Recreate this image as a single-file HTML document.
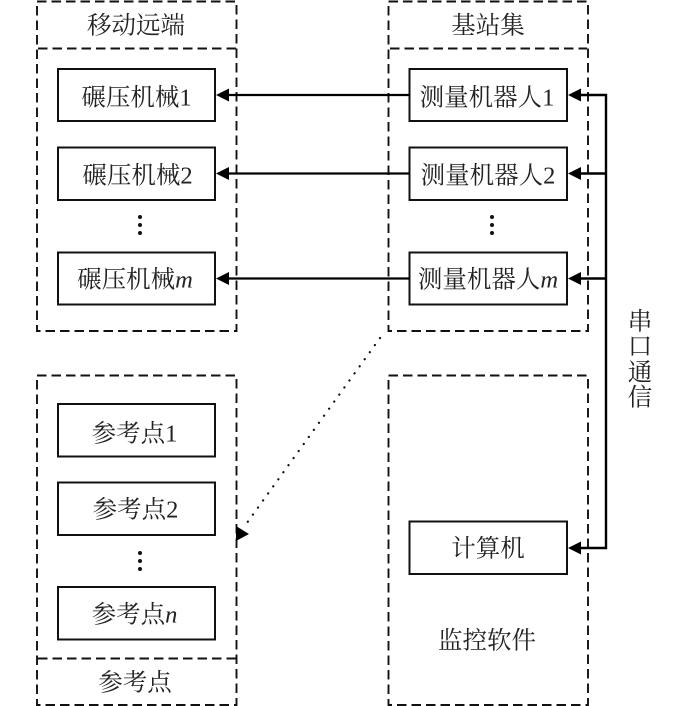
<!DOCTYPE html>
<html lang="zh">
<head>
<meta charset="utf-8">
<style>
html,body{margin:0;padding:0;background:#fff;width:700px;height:706px;overflow:hidden}
svg{display:block}
text{font-family:"Liberation Serif","Noto Serif CJK SC",serif;font-size:24.5px;fill:#222;text-anchor:middle}
.i{font-style:italic}
.d{fill:none;stroke:#111;stroke-width:1.9;stroke-dasharray:9.500 5}
.b{fill:#fff;stroke:#111;stroke-width:2}
.l{stroke:#000;stroke-width:2.200;fill:none}
</style>
</head>
<body>
<svg width="700" height="706" viewBox="0 0 700 706" xmlns="http://www.w3.org/2000/svg">
<!-- dashed containers -->
<rect class="d" x="37" y="1.5" width="199.5" height="329.5"/>
<line class="d" x1="38" y1="48.500" x2="236" y2="48.500"/>
<rect class="d" x="388.500" y="1.500" width="199.500" height="329.500"/>
<line class="d" x1="390" y1="48.500" x2="587" y2="48.500"/>
<rect class="d" x="37" y="375.500" width="199.500" height="329.500"/>
<line class="d" x1="38" y1="658.500" x2="236" y2="658.500"/>
<rect class="d" x="388.500" y="375.500" width="199.500" height="329.500"/>

<!-- solid boxes -->
<rect class="b" x="58" y="69" width="157" height="52"/>
<rect class="b" x="58" y="147.500" width="157" height="52.500"/>
<rect class="b" x="58" y="252.500" width="157" height="52"/>
<rect class="b" x="409.500" y="69" width="157.500" height="52"/>
<rect class="b" x="409.500" y="147.500" width="157.500" height="52.500"/>
<rect class="b" x="409.500" y="252.500" width="157.500" height="52"/>
<rect class="b" x="58" y="404" width="157" height="52.500"/>
<rect class="b" x="58" y="482.500" width="157" height="52.500"/>
<rect class="b" x="58" y="587" width="157" height="52.500"/>
<rect class="b" x="409.500" y="521.500" width="157.500" height="52.500"/>

<!-- connectors -->
<line class="l" x1="228" y1="95" x2="410" y2="95"/>
<line class="l" x1="228" y1="173.500" x2="410" y2="173.500"/>
<line class="l" x1="228" y1="278.500" x2="410" y2="278.500"/>
<polygon points="216,95 229,88.500 229,101.500" fill="#000"/>
<polygon points="216,173.500 229,167 229,180" fill="#000"/>
<polygon points="216,278.500 229,272 229,285" fill="#000"/>
<path class="l" d="M580 95 H606 V548 H580 M580 173.500 H606 M580 278.500 H606" style="stroke-width:2.400"/>
<polygon points="568,95 581,88.500 581,101.500" fill="#000"/>
<polygon points="568,173.500 581,167 581,180" fill="#000"/>
<polygon points="568,278.500 581,272 581,285" fill="#000"/>
<polygon points="568,548 581,541.500 581,554.500" fill="#000"/>

<!-- dotted arrow -->
<line x1="380" y1="338" x2="244" y2="527" stroke="#111" stroke-width="2.200" stroke-linecap="round" stroke-dasharray="0.100 8.600"/>
<polygon points="249,534 236,541 236,526" fill="#000"/>

<!-- ellipsis dots -->
<g fill="#111">
<circle cx="140" cy="217" r="2"/><circle cx="140" cy="225" r="2"/><circle cx="140" cy="233" r="2"/>
<circle cx="492" cy="217" r="2"/><circle cx="492" cy="225" r="2"/><circle cx="492" cy="233" r="2"/>
<circle cx="140" cy="553" r="2"/><circle cx="140" cy="561" r="2"/><circle cx="140" cy="569" r="2"/>
</g>

<!-- labels -->
<text x="136" y="33.500">移动远端</text>
<text x="488" y="33.500">基站集</text>
<text x="136.500" y="105.500">碾压机械1</text>
<text x="137.500" y="183.500">碾压机械2</text>
<text x="135" y="287.500">碾压机械<tspan class="i">m</tspan></text>
<text x="487" y="105.500">测量机器人1</text>
<text x="488" y="183.500">测量机器人2</text>
<text x="488" y="287.500">测量机器人<tspan class="i">m</tspan></text>
<text x="134.500" y="441.500">参考点1</text>
<text x="135.500" y="517.500">参考点2</text>
<text x="134.500" y="622.500">参考点<tspan class="i">n</tspan></text>
<text x="135" y="690.500">参考点</text>
<text x="488" y="556.500">计算机</text>
<text x="487" y="648.500">监控软件</text>
<text x="640" y="329.500">串</text>
<text x="640" y="354.500">口</text>
<text x="640" y="380.500">通</text>
<text x="640" y="405.500">信</text>
</svg>
</body>
</html>
